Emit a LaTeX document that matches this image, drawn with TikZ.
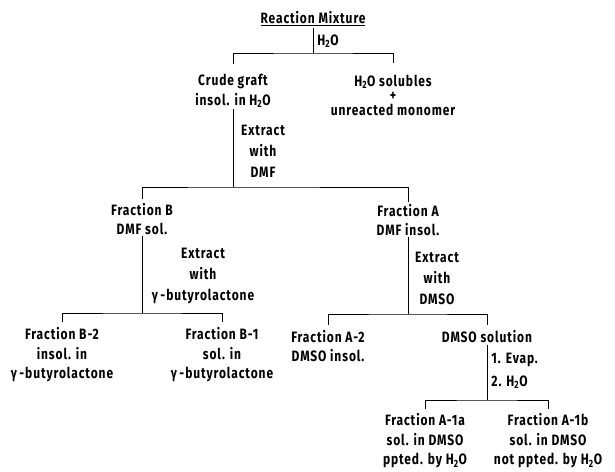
\documentclass[tikz,border=0pt]{standalone}
\usepackage{fontspec}
\setmainfont{Fira Sans}[FakeStretch=0.8, LetterSpace=6]
\usetikzlibrary{calc}

\tikzset{
  txt/.style={align=center, inner xsep=0pt, inner ysep=1pt,
    font=\bfseries\fontsize{15}{19.5}\selectfont},
  lbl/.style={txt, font=\bfseries\fontsize{15}{21}\selectfont}
}

\begin{document}
\begin{tikzpicture}[x=1pt, y=-1pt, line width=0.9pt]
  \useasboundingbox (0,0) rectangle (615,471);

  % fractions
  \node[txt] (mix) at (313,19) {\underline{Reaction Mixture}};
  \node[txt] (crude) at (233,91) {Crude graft\\insol. in H\textsubscript{2}O};
  \node[txt, font={\bfseries\fontsize{15}{14.5}\selectfont\lineskiplimit=-20pt\relax}] (watsol) at (393,95)
    {H\textsubscript{2}O solubles\\+\\unreacted monomer};
  \node[txt] (fracB) at (142,219) {Fraction B\\DMF sol.};
  \node[txt] (fracA) at (408,220) {Fraction A\\DMF insol.};
  \node[txt] (fracBii) at (62,355) {Fraction B-2\\insol. in\\γ\,-butyrolactone};
  \node[txt] (fracBi) at (222,355) {Fraction B-1\\sol. in\\γ\,-butyrolactone};
  \node[txt] (fracAii) at (328,346) {Fraction A-2\\DMSO insol.};
  \node[txt] (dmso) at (487,337) {DMSO solution};
  \node[txt] (fracAia) at (425,441) {Fraction A-1a\\sol. in DMSO\\ppted. by H\textsubscript{2}O};
  \node[txt] (fracAib) at (548,441) {Fraction A-1b\\sol. in DMSO\\not ppted. by H\textsubscript{2}O};

  % junctions
  \coordinate (j1) at (313,53);
  \coordinate (j2) at (233,187);
  \coordinate (j3) at (142,313);
  \coordinate (j4) at (408,314);
  \coordinate (j5) at (487,400);

  % stems
  \draw (mix.south) -- (j1);
  \draw (crude.south) -- (j2);
  \draw (fracB.south) -- (j3);
  \draw (fracA.south) -- (j4);
  \draw (dmso.south) -- (j5);

  % bars
  \draw ([yshift=9pt]crude.north) |- (j1) -| ([yshift=10pt]watsol.north);
  \draw ([yshift=3pt]fracB.north) |- (j2) -| ([yshift=1pt]fracA.north);
  \draw ([yshift=4pt]fracBii.north) |- (j3) -| ([yshift=4pt]fracBi.north);
  \draw ([yshift=4pt]fracAii.north) |- (j4) -| ([yshift=4pt]dmso.north);
  \draw ([yshift=3pt]fracAia.north) |- (j5) -| ([yshift=3pt]fracAib.north);

  % steps
  \node[lbl, anchor=west] (water) at (317,41) {H\textsubscript{2}O};
  \node[lbl] (extDMF) at (263,151) {Extract\\with\\DMF};
  \node[lbl] (extGBL) at (203,276) {Extract\\with\\γ\,-butyrolactone};
  \node[lbl] (extDMSO) at (437,278) {Extract\\with\\DMSO};
  \node[lbl, align=left, anchor=west, font={\bfseries\fontsize{15}{23}\selectfont}] (evap) at (491,371)
    {1. Evap.\\2. H\textsubscript{2}O};
\end{tikzpicture}
\end{document}
